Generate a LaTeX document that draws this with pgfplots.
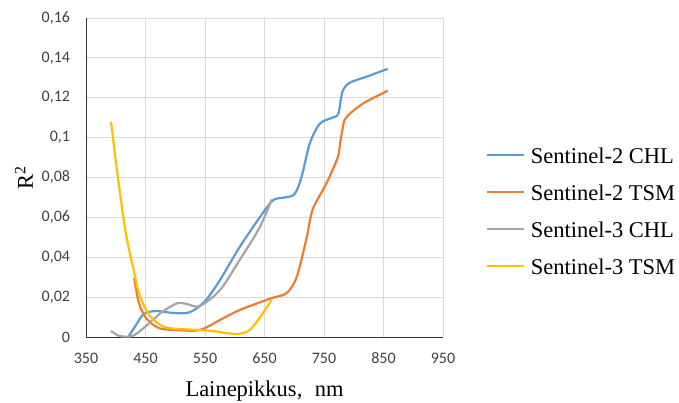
\documentclass[border=0pt]{standalone}
\usepackage{fontspec}
\setmainfont{Liberation Serif}
\newfontfamily\carlito{Carlito}
\usepackage{pgfplots}
\pgfplotsset{compat=1.18}
\definecolor{sblue}{HTML}{5B9BD5}
\definecolor{sorange}{HTML}{ED7D31}
\definecolor{sgray}{HTML}{A5A5A5}
\definecolor{sgold}{HTML}{FFC000}
\definecolor{gridc}{HTML}{D9D9D9}
\begin{document}
\begin{tikzpicture}
\path[use as bounding box] (-86bp,-66bp) rectangle (593bp,337bp);
\begin{axis}[
  scale only axis,
  width=357bp, height=319bp,
  xmin=350, xmax=950, ymin=0, ymax=0.16,
  xtick={350,450,...,950},
  ytick={0,0.02,...,0.16},
  axis x line*=bottom, axis y line*=left,
  x axis line style={-, draw=black!80, line width=0.8bp},
  y axis line style={-, draw=black!80, line width=0.8bp},
  major tick length=0pt,
  grid=major,
  major grid style={draw=gridc, line width=0.9bp},
  /pgf/number format/.cd, use comma, fixed, precision=2, assume math mode=true,
  /pgfplots/.cd,
  scaled y ticks=false,
  ticklabel style={font=\carlito\fontsize{16bp}{18bp}\selectfont, text=black!75},
  yticklabel style={xshift=-12.5bp},
  xticklabel style={yshift=-12.5bp},
  xlabel={Lainepikkus,\hspace{0.55em}nm},
  ylabel={R\textsuperscript{2}},
  label style={font=\fontsize{22.5bp}{26bp}\selectfont},
  xlabel style={at={(axis description cs:0.5,-0.188)}, anchor=base},
  ylabel style={at={(axis description cs:-0.174,0.5)}, anchor=center},
  legend style={draw=none, fill=none, inner sep=0pt, outer sep=0pt,
    at={(axis description cs:1.1204,0.5956)}, anchor=north west,
    font=\fontsize{22.5bp}{26bp}\selectfont,
    nodes={inner sep=0pt, text height=16bp, text depth=0bp},
    row sep=21bp},
  legend cell align=left,
  legend image code/.code={\draw[#1, line width=1.4bp] (0bp,0bp) -- (37bp,0bp); \path (43bp,0bp);},
  every axis plot/.append style={line width=2.2bp, smooth, tension=0.5},
]
\addplot[sblue] coordinates {
(422,0.0005) (434,0.006) (447,0.0115) (467,0.013) (500,0.012) (525,0.0125)
(550,0.018) (575,0.0285) (608,0.045) (642,0.060) (664,0.0685) (680,0.0698)
(700,0.0715) (712,0.080) (726,0.097) (743,0.107) (764,0.110) (774,0.112)
(781,0.123) (793,0.1275) (821,0.1305) (857,0.1345)};
\addplot[sorange] coordinates {
(431,0.0296) (439,0.017) (451,0.0095) (472,0.0045) (501,0.0035) (541,0.0035)
(575,0.0085) (608,0.0135) (662,0.0195) (687,0.022) (704,0.030) (721,0.050)
(731,0.064) (754,0.077) (773,0.090) (777,0.097) (781,0.104) (787,0.110)
(815,0.117) (857,0.1235)};
\addplot[sgray] coordinates {
(392,0.003) (405,0.0006) (414,0.0002) (429,0.0006) (445,0.004) (462,0.0085)
(480,0.013) (504,0.017) (520,0.0165) (541,0.0155) (575,0.0235) (608,0.0385)
(642,0.055) (662,0.069)};
\addplot[sgold] coordinates {
(392,0.108) (405,0.077) (417,0.052) (429,0.035) (439,0.022) (454,0.012)
(470,0.007) (489,0.0045) (541,0.0035) (563,0.003) (603,0.0015) (625,0.0035)
(645,0.011) (662,0.0185)};
\legend{Sentinel-2 CHL, Sentinel-2 TSM, Sentinel-3 CHL, Sentinel-3 TSM}
\end{axis}
\end{tikzpicture}
\end{document}
